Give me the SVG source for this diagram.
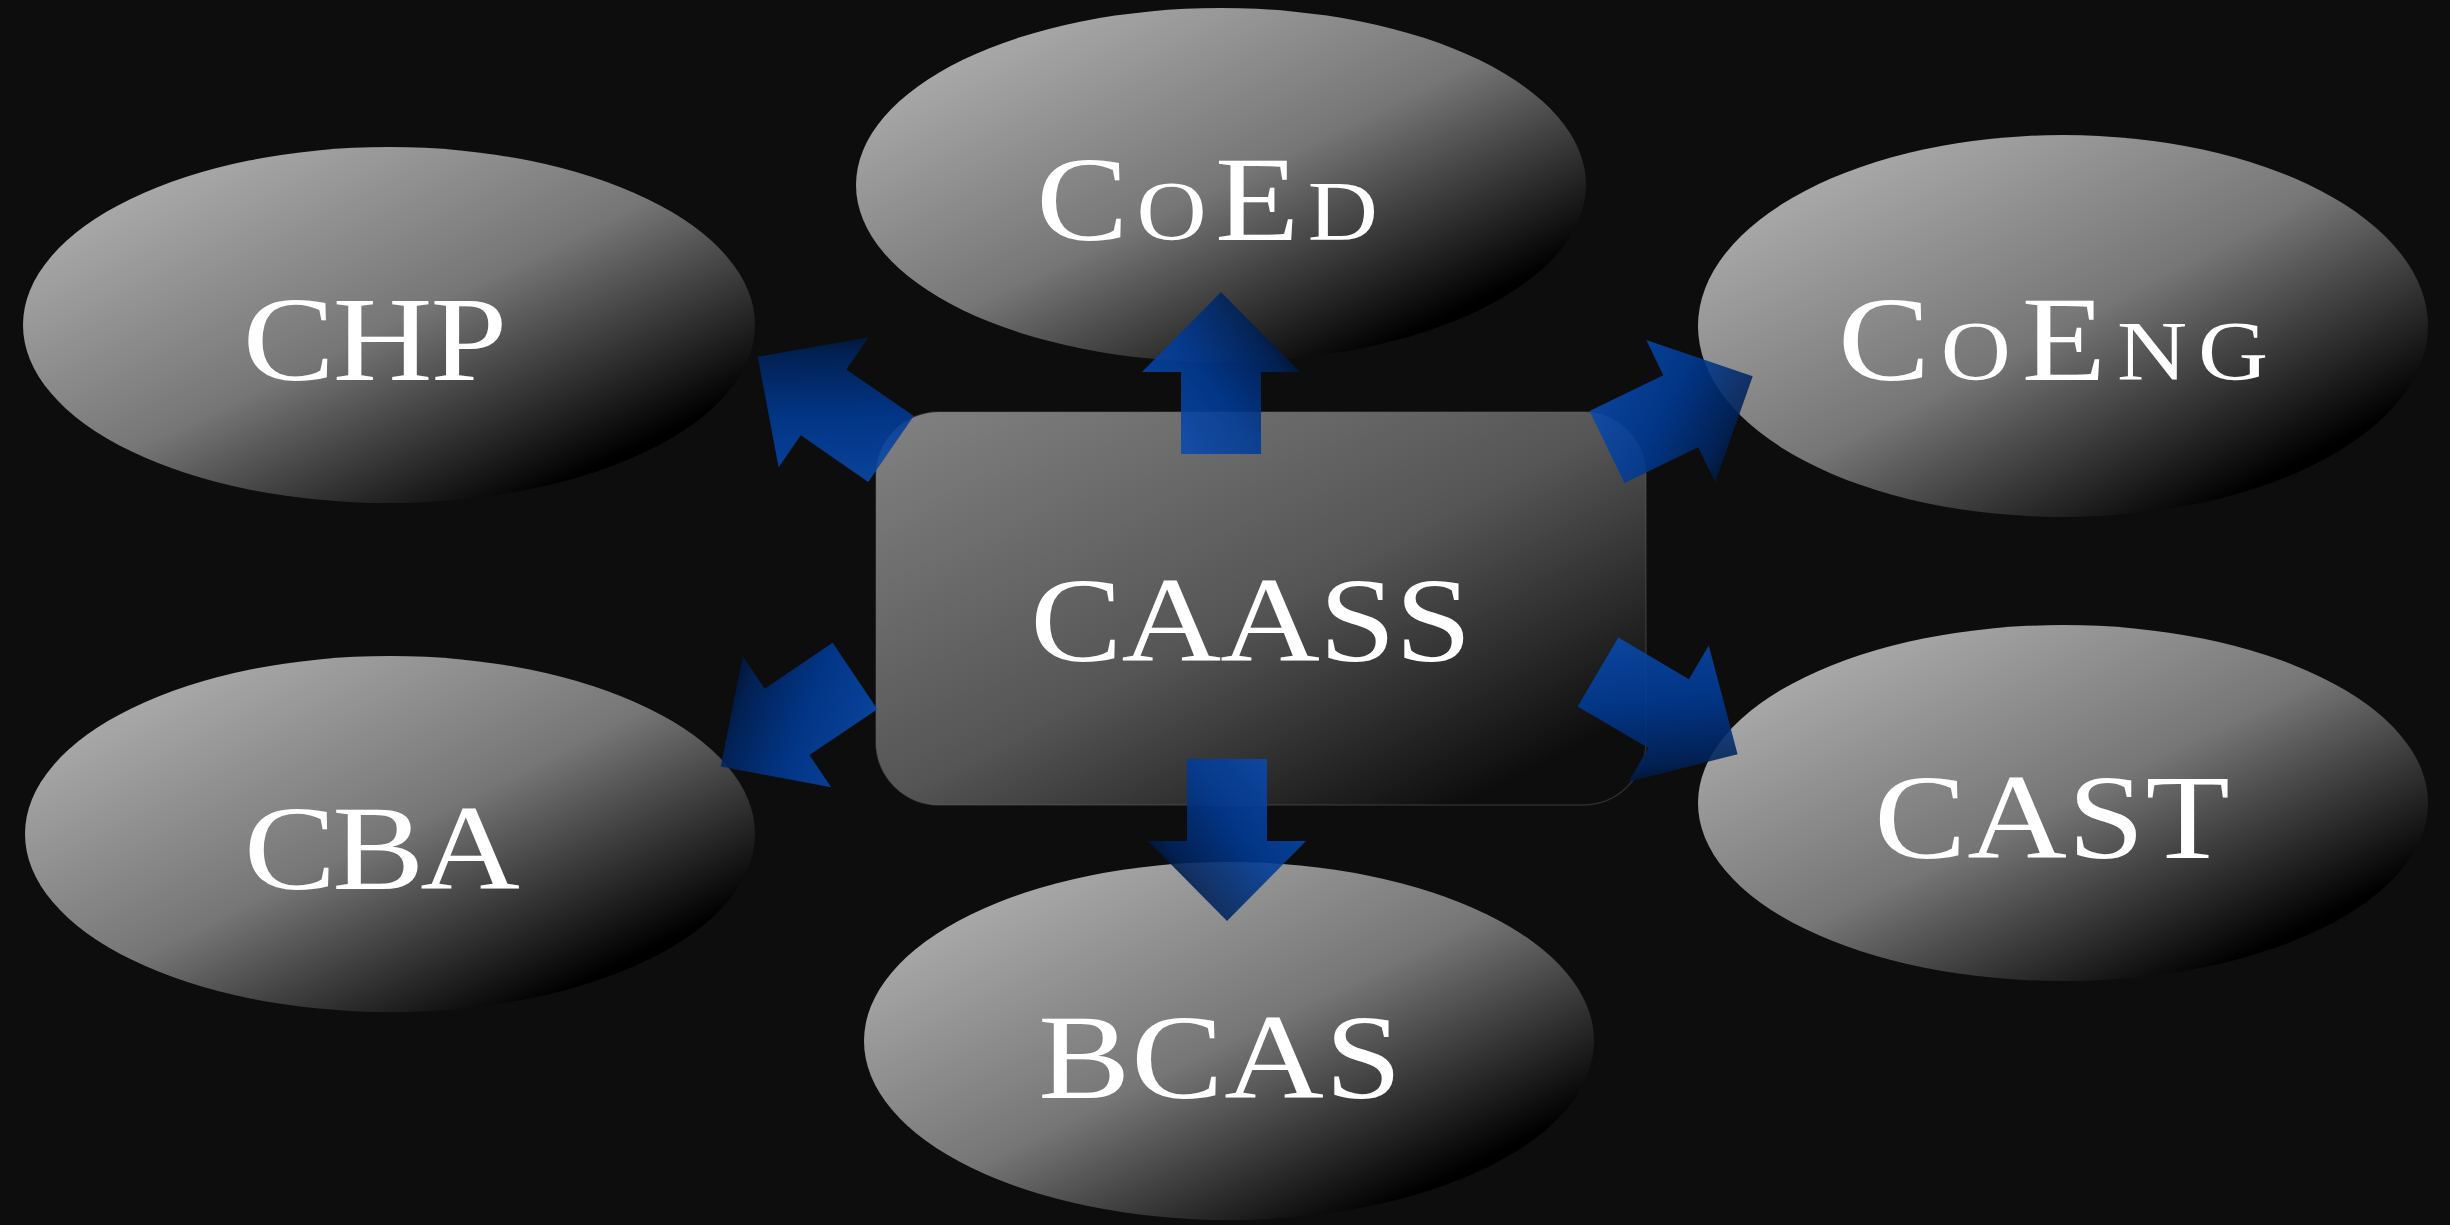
<svg xmlns="http://www.w3.org/2000/svg" width="2450" height="1225" viewBox="0 0 2450 1225">
<defs>
  <linearGradient id="gEll" x1="0" y1="0" x2="1" y2="1">
    <stop offset="0" stop-color="#bcbcbc"/>
    <stop offset="0.5" stop-color="#767676"/>
    <stop offset="0.84" stop-color="#000000"/>
    <stop offset="1" stop-color="#000000"/>
  </linearGradient>
  <linearGradient id="gRect" x1="0" y1="0" x2="1" y2="1">
    <stop offset="0" stop-color="#828282"/>
    <stop offset="0.5" stop-color="#555555"/>
    <stop offset="0.88" stop-color="#0d0d0d"/>
    <stop offset="1" stop-color="#0d0d0d"/>
  </linearGradient>
  <linearGradient id="gArrow" x1="0" y1="1" x2="1" y2="0.25">
    <stop offset="0" stop-color="#0e52b8"/>
    <stop offset="0.5" stop-color="#003a95"/>
    <stop offset="0.8" stop-color="#00245e"/>
    <stop offset="1" stop-color="#000816"/>
  </linearGradient>
  <path id="arrow" d="M-40,0 L-40,-82 L-79,-82 L0,-162 L79,-82 L40,-82 L40,0 Z"/>
</defs>
<style>
  .ell { fill: url(#gEll); }
  .lbl { font-family: "Liberation Serif", "DejaVu Serif", serif; font-size: 120px; fill: #ffffff; text-anchor: middle; }
  .sc { font-variant: small-caps; }
  .arr { fill: url(#gArrow); opacity: 0.88; }
</style>
<rect x="0" y="0" width="2450" height="1225" fill="#0d0d0d"/>

<g id="node-chp">
  <ellipse class="ell" cx="389" cy="325" rx="366" ry="178"/>
  <text class="lbl" transform="translate(375,380) scale(1.15,1)" x="0" y="0" textLength="230" lengthAdjust="spacing">CHP</text>
</g>
<g id="node-coed">
  <ellipse class="ell" cx="1221" cy="185" rx="365" ry="177"/>
  <text class="lbl sc" transform="translate(1207,240) scale(1.15,1)" x="0" y="0" textLength="297" lengthAdjust="spacing">CoEd</text>
</g>
<g id="node-coeng">
  <ellipse class="ell" cx="2063" cy="326" rx="365" ry="191"/>
  <text class="lbl sc" transform="translate(2053,380) scale(1.15,1)" x="0" y="0" textLength="374" lengthAdjust="spacing">CoEng</text>
</g>
<g id="node-cba">
  <ellipse class="ell" cx="390" cy="834" rx="365" ry="178"/>
  <text class="lbl" transform="translate(382,889) scale(1.15,1)" x="0" y="0" textLength="240" lengthAdjust="spacing">CBA</text>
</g>
<g id="node-cast">
  <ellipse class="ell" cx="2063" cy="803" rx="365" ry="178"/>
  <text class="lbl" transform="translate(2052,858) scale(1.15,1)" x="0" y="0" textLength="309" lengthAdjust="spacing">CAST</text>
</g>
<g id="node-bcas">
  <ellipse class="ell" cx="1229" cy="1041" rx="365" ry="179"/>
  <text class="lbl" transform="translate(1220,1098) scale(1.15,1)" x="0" y="0" textLength="316" lengthAdjust="spacing">BCAS</text>
</g>
<g id="node-caass">
  <rect x="876" y="412" width="770" height="393" rx="63" ry="63" fill="url(#gRect)" stroke="#6a6a6a" stroke-opacity="0.35" stroke-width="1.5"/>
  <text class="lbl" transform="translate(1251,661) scale(1.15,1)" x="0" y="0" textLength="384" lengthAdjust="spacing">CAASS</text>
</g>

<g id="connectors">
  <use href="#arrow" class="arr" transform="translate(1221,454)"/>
  <use href="#arrow" class="arr" transform="translate(1227,759) rotate(180)"/>
  <use href="#arrow" class="arr" transform="translate(891,449) rotate(-55.3)"/>
  <use href="#arrow" class="arr" transform="translate(1607,447) rotate(64.1)"/>
  <use href="#arrow" class="arr" transform="translate(855,676) rotate(-124)"/>
  <use href="#arrow" class="arr" transform="translate(1598,672) rotate(120.5)"/>
</g>
</svg>
